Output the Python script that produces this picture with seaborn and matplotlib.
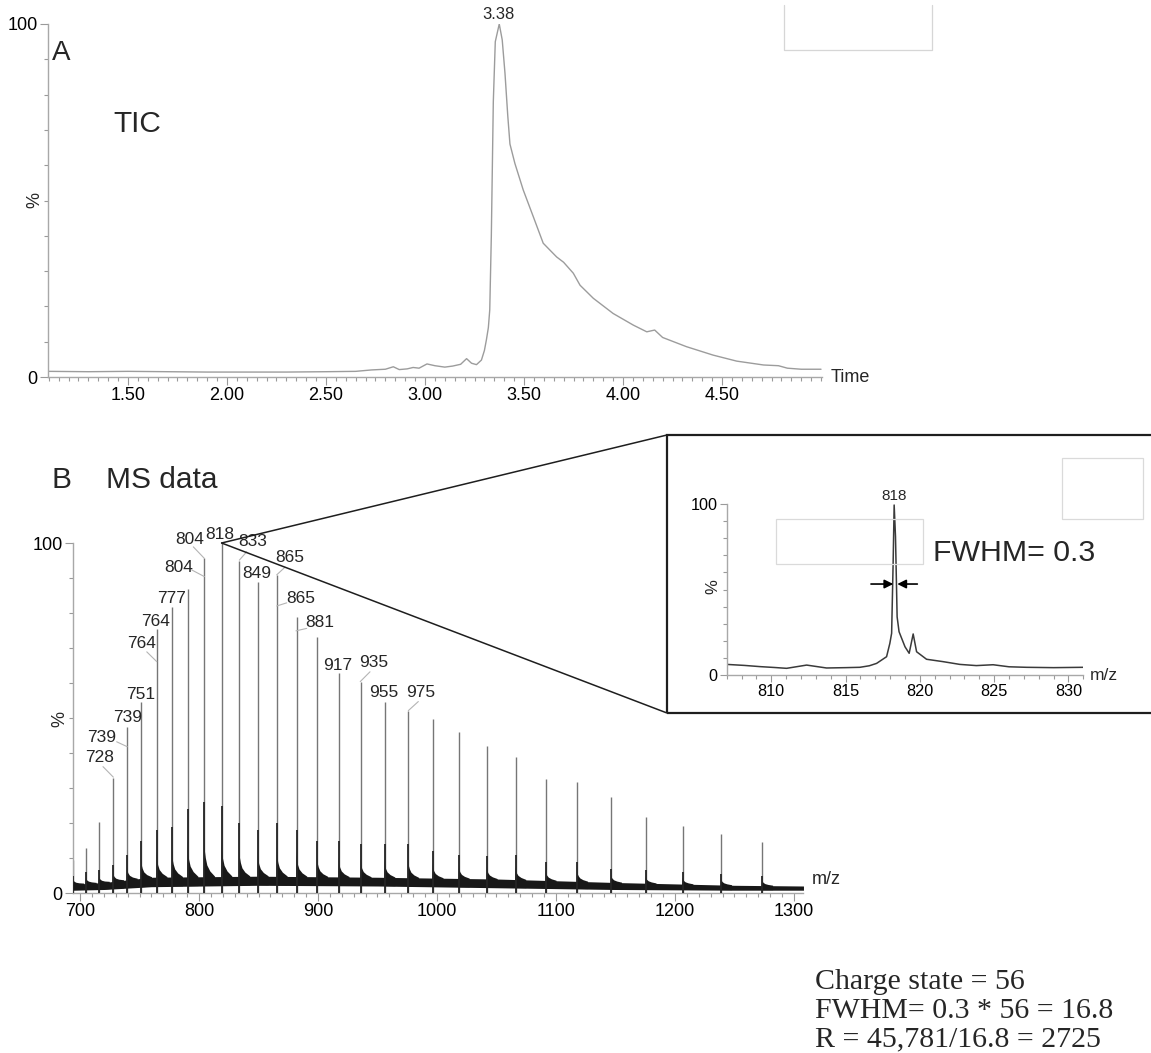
import numpy as np
import pandas as pd
import matplotlib
matplotlib.use("Agg")
import matplotlib.pyplot as plt
import seaborn as sns
from matplotlib.lines import Line2D
from matplotlib.patches import Rectangle
from matplotlib.ticker import MultipleLocator, FixedLocator, FormatStrFormatter

# ---------------- data ----------------
# Panel A: total ion chromatogram
tic_time = [1.10, 1.30, 1.50, 1.70, 1.90, 2.10, 2.30, 2.50, 2.65, 2.73, 2.80, 2.84,
            2.87, 2.91, 2.94, 2.97, 3.01, 3.05, 3.10, 3.14, 3.18, 3.21, 3.235, 3.26,
            3.285, 3.30, 3.31, 3.32, 3.327, 3.335, 3.345, 3.355, 3.375, 3.39, 3.404,
            3.418, 3.429, 3.454, 3.496, 3.547, 3.597, 3.63, 3.665, 3.70, 3.749, 3.783,
            3.85, 3.95, 4.052, 4.12, 4.16, 4.20, 4.32, 4.455, 4.574, 4.71, 4.785, 4.83,
            4.90, 5.00]
tic_pct = [1.6, 1.5, 1.6, 1.5, 1.4, 1.4, 1.4, 1.5, 1.6, 2.0, 2.2, 2.9,
           2.1, 2.3, 2.7, 2.5, 3.7, 3.2, 2.8, 3.1, 3.6, 5.2, 3.9, 3.5,
           4.8, 7.5, 10.5, 14.0, 19.0, 40.0, 78.0, 95.0, 100.0, 95.5, 86.0,
           74.0, 66.0, 60.5, 53.0, 45.4, 37.9, 36.0, 34.0, 32.5, 29.4, 26.0,
           22.3, 18.0, 14.7, 12.8, 13.3, 11.2, 8.6, 6.2, 4.5, 3.4, 3.2, 2.5,
           2.2, 2.2]
tic_apex_label = "3.38"

# Panel B: charge-state envelope (peak m/z, peak height %, height of dark foot %)
ms_peak_mz = [694.5, 705, 716, 728, 739.5, 751.5, 764.5, 777.5, 790.5, 804.5, 819,
              834, 849.5, 865.5, 882, 899.5, 917.5, 936, 956, 976, 996.5, 1018.5,
              1042, 1066, 1091.5, 1118, 1146.5, 1175.5, 1206.5, 1239, 1273.5]
ms_peak_pct = [9.4, 12.8, 20.4, 33.0, 47.5, 54.5, 75.3, 81.8, 87.0, 95.6, 100.0,
               95.0, 89.0, 90.8, 79.0, 73.2, 62.8, 60.4, 54.7, 52.0, 49.7, 46.0,
               42.0, 38.8, 32.5, 31.7, 27.5, 21.8, 19.1, 16.9, 14.5]
ms_foot_pct = [5, 6, 6.5, 8, 11, 15, 18, 19, 24, 26, 25, 20, 18, 20, 18, 15, 15,
               14, 14, 14, 12, 11, 10.5, 11, 9, 9, 7, 6.5, 6, 5.5, 5]
# baseline noise band
band_mz = [694, 720, 760, 850, 950, 1050, 1150, 1250, 1308]
band_lo = [0.8, 1.0, 1.8, 2.2, 2.0, 1.5, 1.0, 0.8, 0.8]
band_hi = [2.5, 3.0, 4.5, 4.8, 4.5, 4.0, 3.0, 2.2, 2.0]

# peak annotations: text, text position (m/z, %), leader line (m/z0, %0, m/z1, %1) or None
peak_labels = ["728", "739", "739", "751", "764", "764", "777", "804", "804", "818",
               "833", "849", "865", "865", "881", "917", "935", "955", "975"]
label_pos = [(716.2, 38.8), (718.2, 44.3), (739.7, 50.0), (751.0, 56.7), (751.8, 71.3),
             (763.9, 77.5), (777.1, 84.2), (783.2, 92.9), (792.4, 101.0), (817.6, 102.5),
             (845.1, 100.4), (848.5, 91.3), (876.5, 96.0), (885.7, 84.2), (901.7, 77.2),
             (916.6, 65.1), (947.1, 65.8), (954.9, 57.2), (986.6, 57.3)]
label_leader = [(719.3, 36.1, 728.0, 33.1), (730.8, 43.2, 739.7, 41.8), None, None,
                (756.1, 68.9, 764.5, 66.1), None, None, (793.9, 92.3, 804.5, 90.4),
                (795.2, 98.9, 804.5, 95.6), None, (840.1, 97.5, 833.9, 95.1), None,
                (872.3, 93.1, 865.3, 90.9), (873.7, 82.9, 865.3, 82.0),
                (890.5, 75.6, 881.5, 74.9), None, (943.7, 63.2, 935.5, 60.4), None,
                (984.3, 54.7, 975.9, 52.1)]

# Inset: zoom on the 818 peak
inset_mz = [807.0, 808.2, 809.24, 810.2, 811.03, 812.38, 813.72, 815.0, 815.96, 816.6,
            817.09, 817.76, 817.98, 818.1, 818.2, 818.27, 818.36, 818.47, 818.6, 819.0,
            819.28, 819.55, 819.78, 820.45, 821.57, 822.69, 823.8, 824.93, 826.0,
            827.17, 829.0, 831.0]
inset_pct = [6.2, 5.6, 4.9, 4.4, 3.9, 5.8, 4.1, 4.3, 4.5, 5.4, 6.8, 10.7, 18.5, 24.4,
             65.0, 99.4, 81.0, 34.0, 25.3, 16.5, 12.7, 24.0, 13.6, 9.2, 7.8, 6.2, 5.5,
             6.0, 4.8, 4.5, 4.3, 4.5]
inset_apex_label = "818"
fwhm_text = "FWHM= 0.3"
calc_lines = ["Charge state = 56", "FWHM= 0.3 * 56 = 16.8", "R = 45,781/16.8 = 2725"]

# ---------------- figure ----------------
sns.set_theme(style="white")
plt.rcParams["font.family"] = ["Liberation Sans", "DejaVu Sans"]

W, H = 1151, 1053
fig = plt.figure(figsize=(W / 100, H / 100), dpi=100)
fig.patch.set_facecolor("white")


def fx(x):
    return x / W


def fy(y):
    return 1 - y / H


def style_axes(ax, lab_size, maj_len, min_len):
    for s in ["top", "right"]:
        ax.spines[s].set_visible(False)
    for s in ["left", "bottom"]:
        ax.spines[s].set_color("#a8a8a8")
        ax.spines[s].set_linewidth(1.0)
    ax.set_facecolor("none")
    ax.tick_params(which="both", direction="out", color="#9a9a9a", width=0.8,
                   labelsize=lab_size, labelcolor="black", pad=1.5,
                   bottom=True, left=True)
    ax.tick_params(which="major", length=maj_len)
    ax.tick_params(which="minor", length=min_len)
    ax.set_xlabel("")
    ax.set_ylabel("")


# ---- Panel A ----
axA = fig.add_axes([fx(48), fy(377), (822 - 48) / W, (377 - 24) / H])
dfA = pd.DataFrame({"time": tic_time, "pct": tic_pct})
sns.lineplot(data=dfA, x="time", y="pct", ax=axA, color="#9c9c9c", lw=1.0,
             estimator=None, sort=False)
axA.set_xlim(1.096, 5.005)
axA.set_ylim(0, 100)
axA.xaxis.set_major_locator(FixedLocator([1.5, 2.0, 2.5, 3.0, 3.5, 4.0, 4.5]))
axA.xaxis.set_major_formatter(FormatStrFormatter("%.2f"))
axA.xaxis.set_minor_locator(MultipleLocator(0.05))
axA.yaxis.set_major_locator(FixedLocator([0, 100]))
axA.yaxis.set_minor_locator(MultipleLocator(10))
style_axes(axA, 13, 6.0, 3.2)
axA.text(3.37, 102.8, tic_apex_label, ha="center", va="center", fontsize=12,
         clip_on=False)

fig.text(fx(52), fy(53), "A", fontsize=20, ha="left", va="center")
fig.text(fx(113), fy(124), "TIC", fontsize=21.5, ha="left", va="center")
fig.text(fx(34.5), fy(200), "%", fontsize=13, rotation=90, ha="center", va="center")
fig.text(fx(831), fy(377), "Time", fontsize=13, ha="left", va="center")
fig.add_artist(Line2D([fx(784.3), fx(784.3), fx(932.3), fx(932.3)],
                      [fy(5), fy(50), fy(50), fy(5)], color="#d6d6d6", lw=0.9,
                      transform=fig.transFigure))

# ---- Panel B ----
axB = fig.add_axes([fx(73), fy(893), (803 - 73) / W, 350 / H])
axB.set_xlim(694.1, 1307.6)
axB.set_ylim(0, 100)
# sticks
axB.vlines(ms_peak_mz, 0, ms_peak_pct, color="#767676", lw=1.0, zorder=2)
# baseline band
axB.fill_between(band_mz, band_lo, band_hi, color="#181818", lw=0, zorder=3)
# dark feet / tails of each peak
offs = [-0.35, 0.0, 0.4, 1.2, 2.5, 5.0, 9.0]
fracs = [0.0, 0.55, 0.35, 0.25, 0.15, 0.07, 0.0]
for mz, foot in zip(ms_peak_mz, ms_foot_pct):
    xs = np.array([mz + o for o in offs])
    hi = np.interp(xs, band_mz, band_hi)
    lo = np.interp(xs, band_mz, band_lo)
    top = hi + np.array(fracs) * (foot - hi)
    axB.fill(np.concatenate([xs, xs[::-1]]), np.concatenate([top, lo[::-1]]),
             color="#181818", lw=0, zorder=3)
    axB.vlines([mz], 0, [foot], color="#262626", lw=1.3, zorder=3)
# labels
for txt, (tx, ty), ld in zip(peak_labels, label_pos, label_leader):
    axB.text(tx, ty, txt, fontsize=12.5, ha="center", va="center", clip_on=False,
             zorder=5)
    if ld is not None:
        axB.plot([ld[0], ld[2]], [ld[1], ld[3]], color="#b4b4b4", lw=0.8,
                 clip_on=False, zorder=4)
axB.xaxis.set_major_locator(MultipleLocator(100))
axB.xaxis.set_minor_locator(MultipleLocator(10))
axB.yaxis.set_major_locator(FixedLocator([0, 100]))
axB.yaxis.set_minor_locator(MultipleLocator(10))
style_axes(axB, 13, 6.0, 3.2)

fig.text(fx(52), fy(480), "B", fontsize=21.5, ha="left", va="center")
fig.text(fx(106), fy(480), "MS data", fontsize=21.5, ha="left", va="center")
fig.text(fx(60), fy(719), "%", fontsize=13, rotation=90, ha="center", va="center")
fig.text(fx(812), fy(880), "m/z", fontsize=13, ha="left", va="center")

# ---- Inset ----
fig.add_artist(Rectangle((fx(667), fy(713)), (1170 - 667) / W, (713 - 435) / H,
                         transform=fig.transFigure, fill=False, ec="#1e1e1e",
                         lw=1.6, clip_on=False))
apex = axB.transData.transform((819, 100))
apex_f = fig.transFigure.inverted().transform(apex)
for yy in (435, 713):
    fig.add_artist(Line2D([apex_f[0], fx(667)], [apex_f[1], fy(yy)], color="#1e1e1e",
                          lw=1.1, transform=fig.transFigure))

axI = fig.add_axes([fx(726.7), fy(675), (1083.3 - 726.7) / W, 171 / H])
dfI = pd.DataFrame({"mz": inset_mz, "pct": inset_pct})
sns.lineplot(data=dfI, x="mz", y="pct", ax=axI, color="#3a3a3a", lw=1.1,
             estimator=None, sort=False)
axI.set_xlim(807.0, 831.0)
axI.set_ylim(0, 100)
axI.xaxis.set_major_locator(MultipleLocator(5))
axI.xaxis.set_minor_locator(MultipleLocator(1))
axI.yaxis.set_major_locator(FixedLocator([0, 100]))
axI.yaxis.set_minor_locator(MultipleLocator(10))
style_axes(axI, 11.7, 5.0, 2.8)
axI.text(818.28, 104.9, inset_apex_label, fontsize=11, ha="center", va="center",
         clip_on=False)
axI.annotate("", xy=(818.21, 53.2), xytext=(816.71, 53.2),
             arrowprops=dict(arrowstyle="-|>", color="black", lw=1.2,
                             mutation_scale=13, shrinkA=0, shrinkB=0))
axI.annotate("", xy=(818.48, 53.2), xytext=(819.83, 53.2),
             arrowprops=dict(arrowstyle="-|>", color="black", lw=1.2,
                             mutation_scale=13, shrinkA=0, shrinkB=0))
fig.text(fx(713), fy(587), "%", fontsize=12, rotation=90, ha="center", va="center")
fig.text(fx(1090), fy(676), "m/z", fontsize=12.5, ha="left", va="center")
fig.text(fx(933), fy(553), fwhm_text, fontsize=21.8, ha="left", va="center")
fig.add_artist(Rectangle((fx(775.7), fy(564.3)), (923.3 - 775.7) / W,
                         (564.3 - 518.7) / H, transform=fig.transFigure, fill=False,
                         ec="#dadada", lw=0.9))
fig.add_artist(Rectangle((fx(1061.7), fy(519.3)), (1143.3 - 1061.7) / W,
                         (519.3 - 458.3) / H, transform=fig.transFigure, fill=False,
                         ec="#dadada", lw=0.9))

# ---- calculation text ----
for i, line in enumerate(calc_lines):
    fig.text(fx(815), fy(989 + 28.5 * i), line, fontsize=21.5,
             family=["Liberation Serif", "DejaVu Serif"], ha="left", va="baseline")

fig.savefig("out.png", dpi=100, facecolor="white")
